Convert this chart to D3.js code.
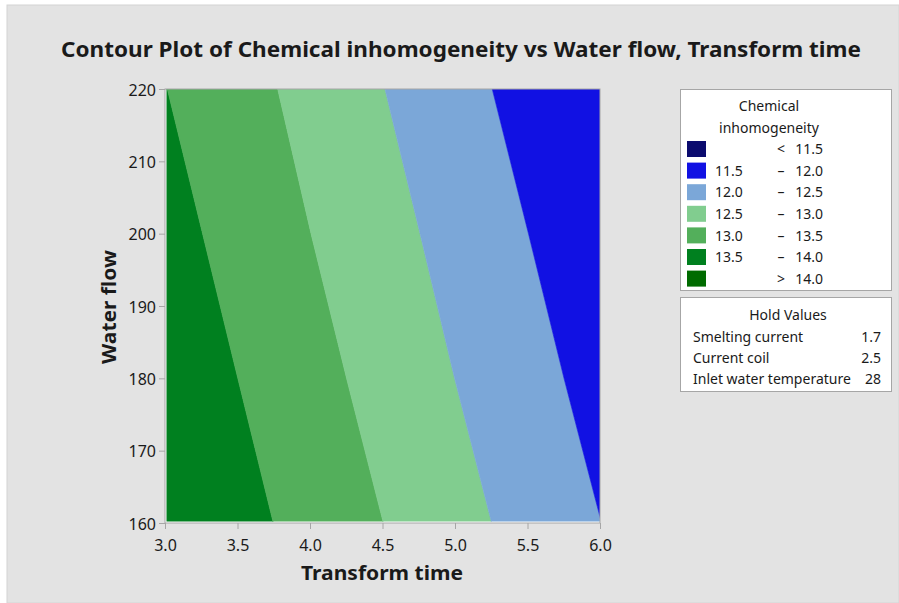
<!DOCTYPE html>
<html>
<head>
<meta charset="utf-8">
<script src="https://cdn.jsdelivr.net/npm/d3@7"></script>
<style>
  html, body { margin: 0; padding: 0; background: #ffffff; }
  svg { display: block; }
  text { font-family: "Noto Sans", "Open Sans", sans-serif; fill: #1a1a1a; }
</style>
</head>
<body>
<script>
// Contour band edges: Transform time where each level is crossed, per Water flow row
const waterFlowRows = [220, 200, 180, 160];
const edge135 = [3.016, 3.259, 3.502, 3.747];
const edge130 = [3.777, 4.007, 4.252, 4.506];
const edge125 = [4.517, 4.759, 4.997, 5.253];
const edge120 = [5.257, 5.507, 5.752, 6.011];

// Legend classes
const legendLow  = ["", "11.5", "12.0", "12.5", "13.0", "13.5", ""];
const legendSep  = ["<", "–", "–", "–", "–", "–", ">"];
const legendHigh = ["11.5", "12.0", "12.5", "13.0", "13.5", "14.0", "14.0"];
const legendColors = ["#0b0b6e", "#1111e3", "#7ba7d8", "#81cd8f", "#53af5b", "#00801f", "#006b00"];

// Hold values
const holdNames  = ["Smelting current", "Current coil", "Inlet water temperature"];
const holdValues = ["1.7", "2.5", "28"];

const xTicks = [3.0, 3.5, 4.0, 4.5, 5.0, 5.5, 6.0];
const yTicks = [160, 170, 180, 190, 200, 210, 220];

const W = 899, H = 603;
const plot = { left: 165, right: 600, top: 89, bottom: 523 };

const svg = d3.select("body").append("svg").attr("width", W).attr("height", H);

// panel background
svg.append("rect").attr("x", 7).attr("y", 5).attr("width", W - 7).attr("height", H - 5)
  .attr("fill", "#e3e3e3").attr("stroke", "#d4d4d4");

const x = d3.scaleLinear().domain([3, 6]).range([plot.left, plot.right]);
const y = d3.scaleLinear().domain([160, 220]).range([plot.bottom, plot.top]);

// plot area
svg.append("rect").attr("x", plot.left).attr("y", plot.top)
  .attr("width", plot.right - plot.left).attr("height", plot.bottom - plot.top)
  .attr("fill", "#ffffff");

svg.append("defs").append("clipPath").attr("id", "plotClip")
  .append("rect").attr("x", plot.left + 1.5).attr("y", plot.top)
  .attr("width", plot.right - plot.left - 1.5).attr("height", plot.bottom - plot.top - 1.5);

const leftEdge = waterFlowRows.map(() => 2.9);
const rightEdge = waterFlowRows.map(() => 6.1);
const bands = [
  { from: leftEdge, to: edge135, color: legendColors[5] },
  { from: edge135, to: edge130, color: legendColors[4] },
  { from: edge130, to: edge125, color: legendColors[3] },
  { from: edge125, to: edge120, color: legendColors[2] },
  { from: edge120, to: rightEdge, color: legendColors[1] }
];

const g = svg.append("g").attr("clip-path", "url(#plotClip)");
bands.forEach(b => {
  const pts = waterFlowRows.map((wf, i) => [x(b.from[i]), y(wf)]);
  const back = waterFlowRows.map((wf, i) => [x(b.to[i]), y(wf)]).reverse();
  // extend past the frame so the clip cuts clean edges
  const all = pts.concat(back);
  g.append("path")
    .attr("d", "M" + all.map(p => p.join(",")).join("L") + "Z")
    .attr("fill", b.color)
    .attr("stroke", b.color).attr("stroke-width", 0.6);
});

// frame
svg.append("rect").attr("x", plot.left).attr("y", plot.top)
  .attr("width", plot.right - plot.left).attr("height", plot.bottom - plot.top)
  .attr("fill", "none").attr("stroke", "#a6a6a6").attr("stroke-width", 1);

// axes
const xAxis = d3.axisBottom(x).tickValues(xTicks).tickFormat(d3.format(".1f")).tickSize(6).tickSizeOuter(0);
const yAxis = d3.axisLeft(y).tickValues(yTicks).tickFormat(d3.format("d")).tickSize(6).tickSizeOuter(0);

const gx = svg.append("g").attr("transform", `translate(0,${plot.bottom})`).call(xAxis);
const gy = svg.append("g").attr("transform", `translate(${plot.left},0)`).call(yAxis);
[gx, gy].forEach(ax => {
  ax.select(".domain").remove();
  ax.selectAll(".tick line").attr("stroke", "#a6a6a6");
  ax.selectAll(".tick text").attr("font-size", 16).attr("fill", "#1a1a1a")
    .style("font-family", "'Noto Sans', 'Open Sans', sans-serif");
});
gx.selectAll(".tick text").attr("dy", null).attr("y", 28);
gy.selectAll(".tick text").attr("x", -9).attr("dy", "0.38em");

// titles
svg.append("text").attr("x", 461).attr("y", 57).attr("text-anchor", "middle")
  .attr("font-size", 22).attr("font-weight", "bold")
  .attr("textLength", 800).attr("lengthAdjust", "spacingAndGlyphs")
  .text("Contour Plot of Chemical inhomogeneity vs Water flow, Transform time");

svg.append("text").attr("x", 382).attr("y", 580).attr("text-anchor", "middle")
  .attr("font-size", 20).attr("font-weight", "bold")
  .attr("textLength", 162).attr("lengthAdjust", "spacingAndGlyphs")
  .text("Transform time");

svg.append("text").attr("transform", "translate(116,307) rotate(-90)").attr("text-anchor", "middle")
  .attr("font-size", 20).attr("font-weight", "bold")
  .attr("textLength", 114).attr("lengthAdjust", "spacingAndGlyphs")
  .text("Water flow");

// legend box
const leg = svg.append("g");
leg.append("rect").attr("x", 680.5).attr("y", 89.5).attr("width", 211).attr("height", 201)
  .attr("fill", "#ffffff").attr("stroke", "#a6a6a6");
leg.append("text").attr("x", 769).attr("y", 110.5).attr("text-anchor", "middle").attr("font-size", 14).text("Chemical");
leg.append("text").attr("x", 769).attr("y", 133).attr("text-anchor", "middle").attr("font-size", 14).text("inhomogeneity");

legendColors.forEach((c, i) => {
  const ry = 141 + i * 21.6;
  leg.append("rect").attr("x", 687).attr("y", ry).attr("width", 19).attr("height", 16).attr("fill", c);
  const by = ry + 13.2;
  if (legendLow[i]) leg.append("text").attr("x", 715).attr("y", by).attr("font-size", 14).text(legendLow[i]);
  leg.append("text").attr("x", 781).attr("y", by).attr("text-anchor", "middle").attr("font-size", 14).text(legendSep[i]);
  leg.append("text").attr("x", 823).attr("y", by).attr("text-anchor", "end").attr("font-size", 14).text(legendHigh[i]);
});

// hold values box
const hold = svg.append("g");
hold.append("rect").attr("x", 680.5).attr("y", 297.5).attr("width", 211).attr("height", 94)
  .attr("fill", "#ffffff").attr("stroke", "#a6a6a6");
hold.append("text").attr("x", 788).attr("y", 319.5).attr("text-anchor", "middle").attr("font-size", 14).text("Hold Values");
holdNames.forEach((n, i) => {
  const by = 341.7 + i * 21.2;
  hold.append("text").attr("x", 693).attr("y", by).attr("font-size", 14).text(n);
  hold.append("text").attr("x", 881).attr("y", by).attr("text-anchor", "end").attr("font-size", 14).text(holdValues[i]);
});
</script>
</body>
</html>
